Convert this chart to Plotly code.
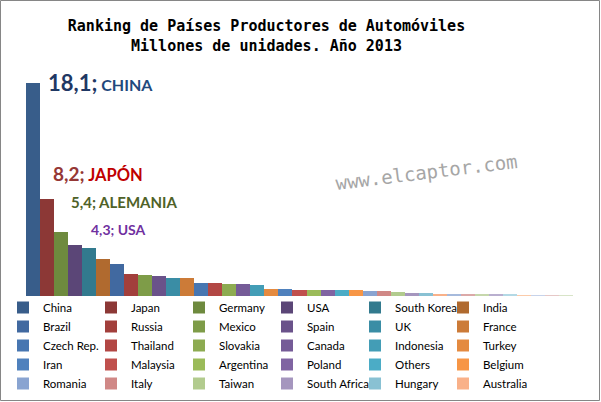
import plotly.graph_objects as go

# ---------------- data ----------------
countries = ["China", "Japan", "Germany", "USA", "South Korea", "India",
             "Brazil", "Russia", "Mexico", "Spain", "UK", "France",
             "Czech Rep.", "Thailand", "Slovakia", "Canada", "Indonesia", "Turkey",
             "Iran", "Malaysia", "Argentina", "Poland", "Others", "Belgium",
             "Romania", "Italy", "Taiwan", "South Africa", "Hungary", "Australia",
             "Uzbekistan", "Austria", "Portugal", "Serbia", "Egypt",
             "Slovenia", "Ukraine", "Netherlands", "Finland"]
production = [18.1, 8.2, 5.4, 4.3, 4.1, 3.1,
              2.7, 1.9, 1.8, 1.7, 1.5, 1.5,
              1.1, 1.1, 1.0, 1.0, 0.9, 0.6,
              0.6, 0.55, 0.5, 0.48, 0.5, 0.48,
              0.41, 0.39, 0.34, 0.26, 0.24, 0.17,
              0.17, 0.16, 0.16, 0.15, 0.09,
              0.08, 0.08, 0.07, 0.07]
in_legend = [True] * 30 + [False] * 9

colors = ["#385D8A", "#8C3836", "#6E8A3E", "#5B4677", "#327A8E", "#B06A2F",
          "#4169A0", "#A23F3C", "#7E9C48", "#6A528A", "#3A8DA5", "#CC7B38",
          "#4776B1", "#B24744", "#8DAB51", "#755B97", "#439DB6", "#E48A40",
          "#4F81BD", "#C0504D", "#9BBB59", "#8064A2", "#4BACC6", "#F79646",
          "#89A4D1", "#D08886", "#B2CB8E", "#A596BE", "#89C1D3", "#F9B189",
          "#A6BADC", "#DBA9A8", "#C6D7AC", "#B9AFCF", "#B3D9E5",
          "#FBCBAA", "#C7D3EA", "#E6C8C7", "#D8E4C8"]

title_text = "<b>Ranking de Países Productores de Automóviles<br>Millones de unidades. Año 2013</b>"

fig = go.Figure()
for name, val, col, leg in zip(countries, production, colors, in_legend):
    fig.add_trace(go.Bar(x=[name], y=[val], name=name, marker_color=col,
                         marker_line_width=0, showlegend=leg))

W, H = 601, 402
ml, mr, mt, mb = 26, 28, 72, 106
pw, ph = W - ml - mr, H - mt - mb

def px_x(px):
    return (px - ml) / pw

def px_y(py):
    return (H - mb - py) / ph

fmt = lambda v: f"{v:.1f}".replace(".", ",")

labels = [
    (0, f"<span style='font-size:22px;color:#1F3864'>{fmt(production[0])};</span> <span style='color:#1F497D'>CHINA</span>", 16, 13, 0),
    (1, f"<span style='font-size:19px;color:#953735'>{fmt(production[1])};</span> <span style='color:#C00000'>JAPÓN</span>", 16.5, 4, 26),
    (2, f"<span style='color:#4F6228'>{fmt(production[2])}; ALEMANIA</span>", 15, 8, 30),
    (3, f"<span style='color:#7030A0'>{fmt(production[3])}; USA</span>", 14, 14, 16),
]
annotations = []
for idx, txt, size, xs, ys in labels:
    annotations.append(dict(
        x=countries[idx], y=production[idx], xref="x", yref="y",
        text=f"<b>{txt}</b>", showarrow=False, xanchor="left", yanchor="middle",
        xshift=xs, yshift=ys,
        font=dict(family="Lato, Open Sans, sans-serif", size=size)))

annotations.append(dict(
    x=px_x(426), y=px_y(172), xref="paper", yref="paper",
    xanchor="center", yanchor="middle",
    text="www.elcaptor.com", showarrow=False, textangle=-7,
    font=dict(family="DejaVu Sans Mono, monospace", size=19, color="#A6A6A6")))

fig.update_layout(
    width=W, height=H,
    margin=dict(l=ml, r=mr, t=mt, b=mb, autoexpand=False),
    paper_bgcolor="white", plot_bgcolor="white",
    barmode="stack", bargap=0,
    title=dict(text=title_text, x=266.5 / W, xref="container", xanchor="center",
               y=1 - 31 / H, yref="container", yanchor="middle",
               font=dict(family="DejaVu Sans Mono, monospace", size=15, color="#000000")),
    xaxis=dict(visible=False, type="category", categoryorder="array", categoryarray=countries),
    yaxis=dict(visible=False, range=[0, 19]),
    showlegend=True,
    legend=dict(orientation="h", xref="container", x=3 / W, xanchor="left",
                yref="container", y=1 - 293 / H, yanchor="top",
                entrywidth=43, entrywidthmode="pixels", traceorder="normal",
                font=dict(family="Lato, Open Sans, sans-serif", size=11.5, color="#000000"),
                itemclick=False, itemdoubleclick=False, bgcolor="rgba(0,0,0,0)"),
    annotations=annotations,
    shapes=[dict(type="rect", xref="paper", yref="paper",
                 x0=px_x(0.5), x1=px_x(599.5), y0=px_y(400.5), y1=px_y(0.5),
                 line=dict(color="#868686", width=1), fillcolor="rgba(0,0,0,0)", layer="above")],
)

fig.write_html("out.html", config={"displayModeBar": False},
               post_script="document.body.style.margin='0px';")
